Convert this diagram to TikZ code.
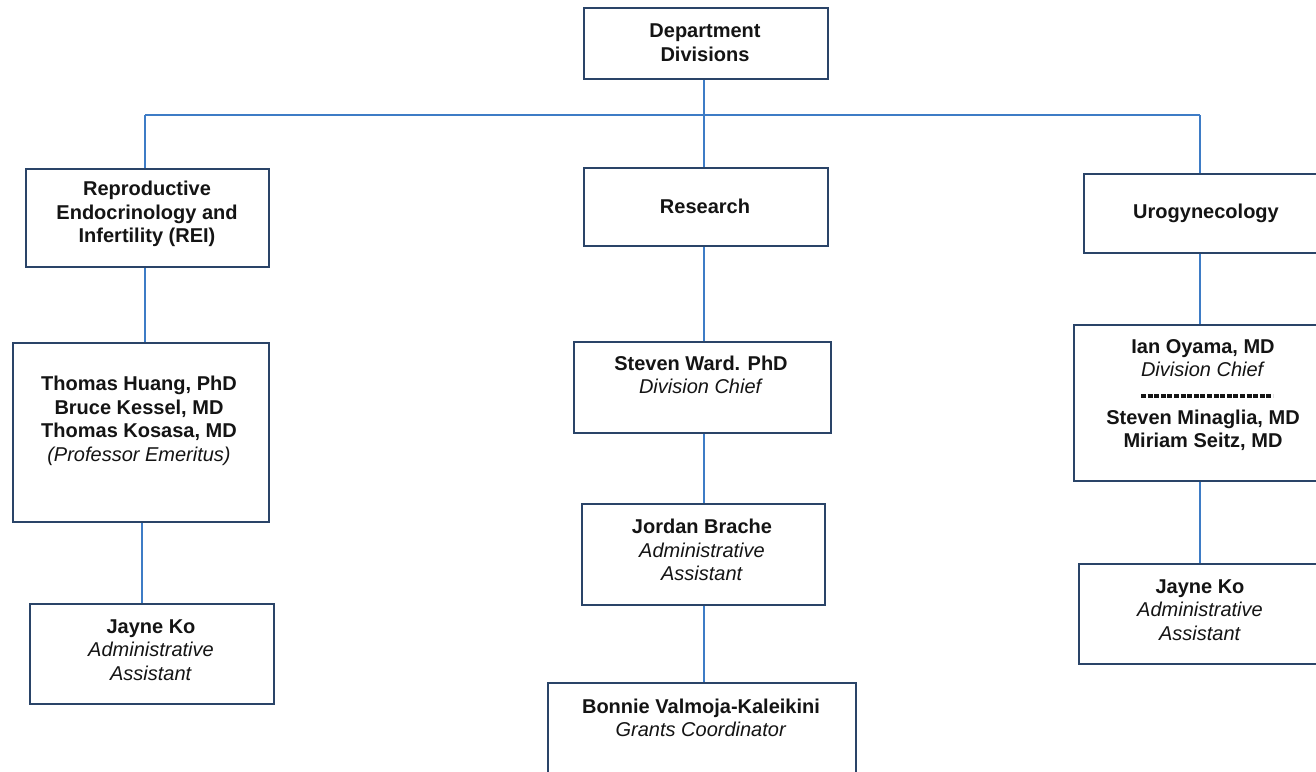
\documentclass[tikz,border=0pt]{standalone}
\usepackage{fontspec}
\setmainfont{Liberation Sans}
\definecolor{boxc}{HTML}{2A4468}
\definecolor{linec}{HTML}{3E7CC6}
\definecolor{txtc}{HTML}{141414}
\tikzset{
  orgbox/.style={draw=boxc, line width=2.2pt, fill=white, inner sep=0pt, anchor=north west},
  orgtxt/.style={font=\fontsize{20}{23.6}\selectfont\bfseries, align=center, text=txtc, inner sep=0pt},
  conn/.style={draw=linec, line width=2pt}
}
\begin{document}
\begin{tikzpicture}[x=1pt,y=-1pt]
\useasboundingbox (0,0) rectangle (1316,771);
\fill[white] (0,0) rectangle (1316,771);
\clip (0,0) rectangle (1316,771);

% bus coordinates
\coordinate (busL) at (145,115);
\coordinate (busM) at (704,115);
\coordinate (busR) at (1200,115);

% boxes
\node[orgbox, minimum width=244pt, minimum height=71pt]  (dept)     at (583,7) {};
\node[orgbox, minimum width=243pt, minimum height=98pt]  (rei)      at (25,168) {};
\node[orgbox, minimum width=244pt, minimum height=78pt]  (research) at (583,167) {};
\node[orgbox, minimum width=250pt, minimum height=79pt]  (uro)      at (1083,173) {};
\node[orgbox, minimum width=256pt, minimum height=179pt] (huang)    at (12,342) {};
\node[orgbox, minimum width=244pt, minimum height=100pt] (jayneL)   at (29,603) {};
\node[orgbox, minimum width=257pt, minimum height=91pt]  (ward)     at (573,341) {};
\node[orgbox, minimum width=243pt, minimum height=101pt] (jordan)   at (581,503) {};
\node[orgbox, minimum width=308pt, minimum height=110pt] (bonnie)   at (547,682) {};
\node[orgbox, minimum width=260pt, minimum height=156pt] (ian)      at (1073,324) {};
\node[orgbox, minimum width=245pt, minimum height=100pt] (jayneR)   at (1078,563) {};

% connectors
\draw[conn] (dept.south -| busM) -- (busM);
\draw[conn] (busL) -- (busR);
\draw[conn] (busL) -- (busL |- rei.north);
\draw[conn] (busM) -- (busM |- research.north);
\draw[conn] (busR) -- (busR |- uro.north);
\draw[conn] (rei.south -| busL) -- (huang.north -| busL);
\draw[conn] ([xshift=-3pt]huang.south -| busL) -- ([xshift=-3pt]jayneL.north -| busL);
\draw[conn] (research.south -| busM) -- (ward.north -| busM);
\draw[conn] (ward.south -| busM) -- (jordan.north -| busM);
\draw[conn] (jordan.south -| busM) -- (bonnie.north -| busM);
\draw[conn] (uro.south -| busR) -- (ian.north -| busR);
\draw[conn] (ian.south -| busR) -- (jayneR.north -| busR);

% texts
\node[orgtxt] (deptT) at (705,43) {Department\\Divisions};
\node[orgtxt] (reiT) at (147,214) {Reproductive\\Endocrinology and\\Infertility (REI)};
\node[orgtxt] (researchT) at (705,206) {Research};
\node[orgtxt] (uroT) at (1206,213) {Urogynecology};
\node[orgtxt] (huangT) at (139,421) {Thomas Huang, PhD\\Bruce Kessel, MD\\Thomas Kosasa, MD\\\textit{\mdseries (Professor Emeritus)}};
\node[orgtxt] (jayneLT) at (151,650) {Jayne Ko\\\textit{\mdseries Administrative}\\\textit{\mdseries Assistant}};
\node[orgtxt] (wardT) at (701,375) {Steven Ward. PhD\\\textit{\mdseries Division Chief}};
\node[orgtxt] (jordanT) at (702,550) {Jordan Brache\\\textit{\mdseries Administrative}\\\textit{\mdseries Assistant}};
\node[orgtxt] (bonnieT) at (701,718) {Bonnie Valmoja-Kaleikini\\\textit{\mdseries Grants Coordinator}};
\node[orgtxt] (ianT) at (1203,395) {Ian Oyama, MD\\\textit{\mdseries Division Chief}\\\mbox{}\\Steven Minaglia, MD\\Miriam Seitz, MD};
\node[orgtxt] (jayneRT) at (1200,610) {Jayne Ko\\\textit{\mdseries Administrative}\\\textit{\mdseries Assistant}};

% separator in Ian Oyama box
\draw[txtc, line width=3.2pt, dash pattern=on 5pt off 1.6pt]
  ([xshift=-62pt,yshift=-1pt]ianT.center) -- ([xshift=70pt,yshift=-1pt]ianT.center);
\end{tikzpicture}
\end{document}
